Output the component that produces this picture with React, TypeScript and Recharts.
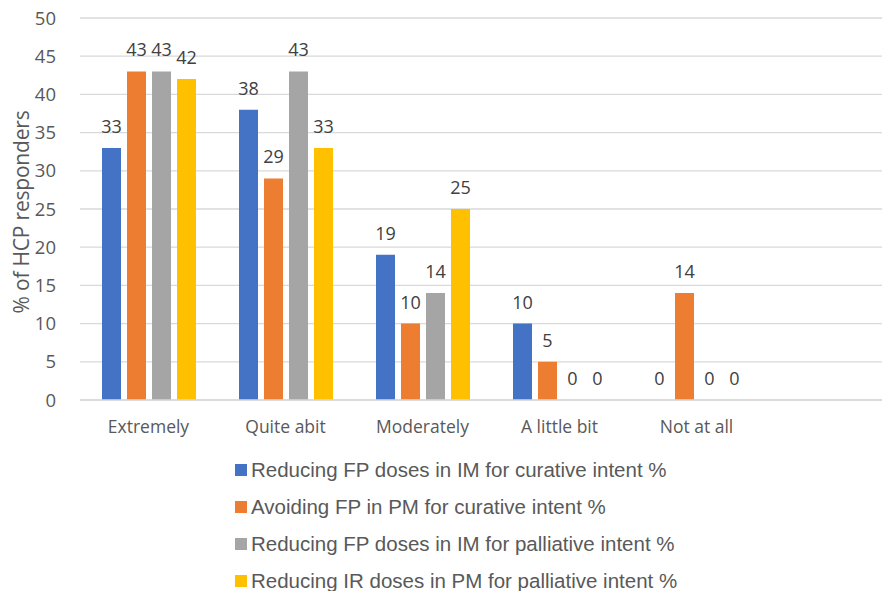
import React from 'react';
import { BarChart, Bar, XAxis, YAxis, CartesianGrid, LabelList } from 'recharts';

// Response categories (the trailing blank slot keeps the plot width)
const categories = ['Extremely', 'Quite abit', 'Moderately', 'A little bit', 'Not at all', ''];

const reducingFpImCurative = [33, 38, 19, 10, 0, null];
const avoidingFpPmCurative = [43, 29, 10, 5, 14, null];
const reducingFpImPalliative = [43, 43, 14, 0, 0, null];
const reducingIrPmPalliative = [42, 33, 25, 0, 0, null];

const yTicks = [0, 5, 10, 15, 20, 25, 30, 35, 40, 45, 50];

const series = [
  { key: 'a', name: 'Reducing FP doses in IM for curative intent %', color: '#4472C4', values: reducingFpImCurative },
  { key: 'b', name: 'Avoiding FP in PM for curative intent %', color: '#ED7D31', values: avoidingFpPmCurative },
  { key: 'c', name: 'Reducing FP doses in IM for palliative intent %', color: '#A5A5A5', values: reducingFpImPalliative },
  { key: 'd', name: 'Reducing IR doses in PM for palliative intent %', color: '#FFC000', values: reducingIrPmPalliative },
];

const data = categories.map((name, i) => {
  const row: Record<string, any> = { name };
  series.forEach(s => { row[s.key] = s.values[i]; });
  return row;
});

const tickFont = '"Open Sans", "DejaVu Sans", sans-serif';

// zero values still need a (hairline) bar so their label gets drawn
const tinyForZero = (value: any) => (value === 0 ? 0.01 : 0);

const YTitle = () => (
  <text
    x={21}
    y={212}
    transform="rotate(-90 21 212)"
    textAnchor="middle"
    dominantBaseline="central"
    fill="#595959"
    fontSize={21}
    letterSpacing={-0.2}
    fontFamily={tickFont}
  >
    % of HCP responders
  </text>
);

const App: React.FC = () => {
  return (
    <div style={{ position: 'relative', margin: '-8px', width: 890, height: 599, overflow: 'hidden', background: '#fff' }}>
      <BarChart
        width={902}
        height={440}
        data={data}
        margin={{ top: 18, right: 0, bottom: 0, left: 0 }}
        barSize={19}
        barGap={6}
        barCategoryGap={21}
      >
        <CartesianGrid vertical={false} stroke="#d9d9d9" strokeWidth={1.3} />
        <XAxis
          dataKey="name"
          height={40}
          axisLine={{ stroke: '#d9d9d9', strokeWidth: 1.3 }}
          tickLine={false}
          tickMargin={15}
          interval={0}
          tick={{ fill: '#595959', fontSize: 17.5, fontFamily: tickFont }}
        />
        <YAxis
          width={80}
          domain={[0, 50]}
          ticks={yTicks}
          axisLine={false}
          tickLine={false}
          tickMargin={18}
          tick={{ fill: '#595959', fontSize: 18.5, fontFamily: tickFont }}
          label={{ content: () => <YTitle /> }}
        />
        {series.map(s => (
          <Bar
            key={s.key}
            dataKey={s.key}
            name={s.name}
            fill={s.color}
            minPointSize={tinyForZero}
            isAnimationActive={false}
          >
            <LabelList
              dataKey={s.key}
              position="top"
              offset={15}
              style={{ fill: '#404040', fontSize: 18, fontFamily: tickFont }}
            />
          </Bar>
        ))}
      </BarChart>
      <div style={{ position: 'absolute', left: 235, top: 451, fontFamily: '"Liberation Sans", Arial, sans-serif', fontSize: 20.5, color: '#595959' }}>
        {series.map(s => (
          <div key={s.key} style={{ display: 'flex', alignItems: 'center', height: 37.2, whiteSpace: 'nowrap' }}>
            <span style={{ display: 'inline-block', width: 12, height: 12, background: s.color, marginRight: 4 }} />
            <span>{s.name}</span>
          </div>
        ))}
      </div>
    </div>
  );
};

export default App;
